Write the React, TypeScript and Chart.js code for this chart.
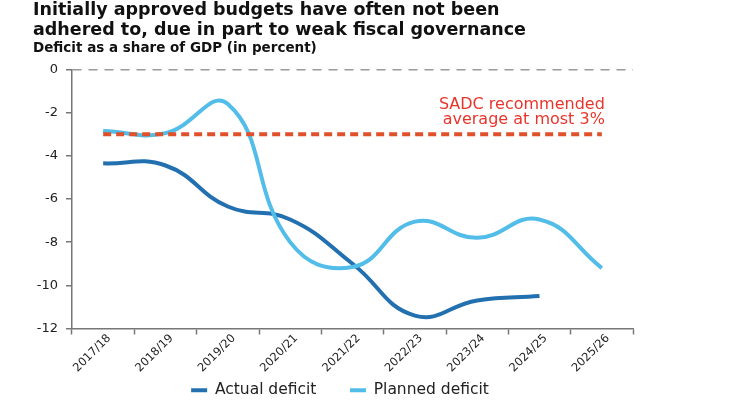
import React, { useEffect, useRef } from "react";
import { Chart, registerables, Plugin } from "chart.js";

Chart.register(...registerables);

const categories = [
  "2017/18",
  "2018/19",
  "2019/20",
  "2020/21",
  "2021/22",
  "2022/23",
  "2023/24",
  "2024/25",
  "2025/26",
];

// deficit as a share of GDP, percent
const actualDeficit = [-4.35, -4.45, -6.35, -6.95, -9.0, -11.4, -10.7, -10.5];
const plannedDeficit = [-2.85, -2.95, -1.6, -8.0, -9.15, -7.05, -7.8, -6.95, -9.2];
const sadcLimit = [-3, -3, -3, -3, -3, -3, -3, -3, -3];

const sadcNote = ["SADC recommended", "average at most 3%"];

const FONT = "'DejaVu Sans', sans-serif";

const noteLabel: Plugin = {
  id: "noteLabel",
  afterLayout(chart) {
    // nudge the legend a little to the right
    if (chart.legend) chart.legend.left += 14;
  },
  afterDatasetsDraw(chart) {
    const { ctx, scales } = chart;
    const x = scales.x.getPixelForValue(categories.length - 1) + 3;
    const y = scales.y.getPixelForValue(-3);
    ctx.save();
    ctx.font = `16px ${FONT}`;
    ctx.fillStyle = "#e8352c";
    ctx.textAlign = "right";
    ctx.textBaseline = "middle";
    ctx.fillText(sadcNote[0], x, y - 29);
    ctx.fillText(sadcNote[1], x, y - 14);
    ctx.restore();
  },
};

const App: React.FC = () => {
  const chartRef = useRef<HTMLCanvasElement>(null);
  const chartInstance = useRef<Chart>();

  useEffect(() => {
    if (!chartRef.current) return;
    const ctx = chartRef.current.getContext("2d");
    if (!ctx) return;

    chartInstance.current = new Chart(ctx, {
      type: "line",
      data: {
        labels: categories,
        datasets: [
          {
            label: "Actual deficit",
            data: actualDeficit,
            borderColor: "#2270b0",
            backgroundColor: "#2270b0",
            borderWidth: 4,
            tension: 0.45,
            pointRadius: 0,
            order: 2,
          },
          {
            label: "Planned deficit",
            data: plannedDeficit,
            borderColor: "#52bde8",
            backgroundColor: "#52bde8",
            borderWidth: 4,
            tension: 0.45,
            pointRadius: 0,
            order: 1,
          },
          {
            label: "SADC",
            data: sadcLimit,
            borderColor: "#e0502b",
            borderWidth: 4,
            borderDash: [8, 5],
            pointRadius: 0,
            order: 0,
          },
        ],
      },
      options: {
        responsive: true,
        maintainAspectRatio: false,
        animation: false,
        layout: { padding: { left: 33, right: 97, top: 0, bottom: -8 } },
        plugins: {
          title: {
            display: true,
            text: [
              "Initially approved budgets have often not been",
              "adhered to, due in part to weak fiscal governance",
            ],
            align: "start",
            color: "#111",
            font: { family: FONT, size: 17.5, weight: "bold", lineHeight: 1.15 },
            padding: { top: 0, bottom: 0 },
          },
          subtitle: {
            display: true,
            text: "Deficit as a share of GDP (in percent)",
            align: "start",
            color: "#111",
            font: { family: FONT, size: 13.5, weight: "bold", lineHeight: 1.2 },
            padding: { top: 0, bottom: 13 },
          },
          legend: {
            position: "bottom",
            labels: {
              filter: (item) => item.datasetIndex !== 2,
              sort: (a, b) => a.datasetIndex - b.datasetIndex,
              // extra room after the first entry, as in the source
              generateLabels: (chart) =>
                Chart.defaults.plugins.legend.labels
                  .generateLabels(chart)
                  .map((item) =>
                    item.datasetIndex === 0
                      ? { ...item, text: item.text + "      " }
                      : item
                  ),
              usePointStyle: true,
              pointStyle: "line",
              pointStyleWidth: 16,
              padding: 4,
              color: "#222",
              font: { family: FONT, size: 15.5 },
            },
          },
          tooltip: { enabled: false },
        },
        scales: {
          x: {
            offset: true,
            grid: {
              offset: true,
              drawOnChartArea: false,
              drawTicks: true,
              tickLength: 6,
              tickColor: "#777",
              tickWidth: 1.5,
            },
            border: { color: "#777", width: 1.5 },
            ticks: {
              maxRotation: 45,
              minRotation: 45,
              color: "#222",
              padding: -3,
              labelOffset: 6,
              font: { family: FONT, size: 11.5 },
            },
            afterFit: (scale) => {
              scale.height = 50;
            },
          },
          y: {
            min: -12,
            max: 0,
            ticks: {
              stepSize: 2,
              color: "#222",
              padding: 8,
              font: { family: FONT, size: 13 },
            },
            grid: {
              color: (c) => (c.tick && c.tick.value === 0 ? "#9a9a9a" : "transparent"),
              lineWidth: 1.5,
              tickColor: "#777",
              tickWidth: 1.5,
              tickLength: 6,
            },
            border: { color: "#777", width: 1.5, dash: [9, 7] },
            afterFit: (scale) => {
              scale.width = 39;
            },
          },
        },
      },
      plugins: [noteLabel],
    });

    return () => {
      if (chartInstance.current) {
        chartInstance.current.destroy();
      }
    };
  }, []);

  return (
    <div
      style={{
        position: "absolute",
        left: 0,
        top: 0,
        width: 730,
        height: 400,
        background: "#fff",
      }}
    >
      <canvas ref={chartRef}></canvas>
    </div>
  );
};

export default App;
